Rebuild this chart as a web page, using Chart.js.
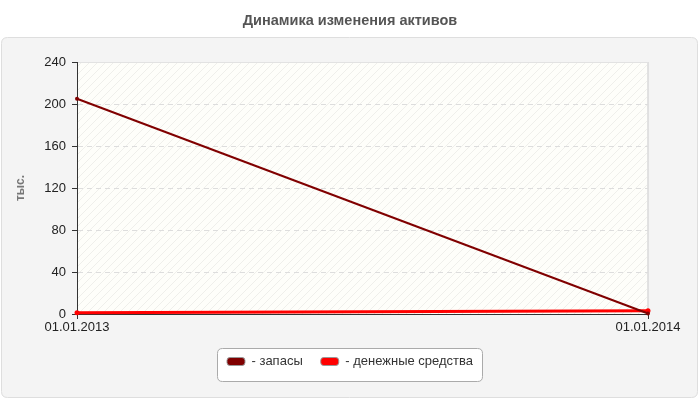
<!DOCTYPE html>
<html><head><meta charset="utf-8">
<script src="https://cdn.jsdelivr.net/npm/chart.js@4/dist/chart.umd.min.js"></script>
<style>html,body{margin:0;padding:0;background:#fff}#wrap{width:700px;height:400px}</style>
</head><body><div id="wrap"><canvas id="c" width="700" height="400"></canvas></div>
<script>
const chartTitle = 'Динамика изменения активов';
const yTitle = 'тыс.';
const categories = ['01.01.2013', '01.01.2014'];
const seriesNames = ['- запасы', '- денежные средства'];
const zapasy = [205, 0.5];
const dengi = [1.2, 3.2];
const seriesColors = ['#800000', '#ff0000'];
const yMin = 0, yMax = 240, yStep = 40;

const FONT = '"Liberation Sans", Arial, sans-serif';

function makePattern(ctx) {
  const p = document.createElement('canvas');
  p.width = 8; p.height = 8;
  const c = p.getContext('2d');
  c.fillStyle = '#fefefa';
  c.fillRect(0, 0, 8, 8);
  c.strokeStyle = '#efefeb';
  c.lineWidth = 1;
  c.beginPath();
  c.moveTo(0, 8); c.lineTo(8, 0);
  c.moveTo(-1, 1); c.lineTo(1, -1);
  c.moveTo(7, 9); c.lineTo(9, 7);
  c.stroke();
  return ctx.createPattern(p, 'repeat');
}

function rr(ctx, x, y, w, h, r) {
  ctx.beginPath();
  ctx.moveTo(x + r, y);
  ctx.lineTo(x + w - r, y);
  ctx.quadraticCurveTo(x + w, y, x + w, y + r);
  ctx.lineTo(x + w, y + h - r);
  ctx.quadraticCurveTo(x + w, y + h, x + w - r, y + h);
  ctx.lineTo(x + r, y + h);
  ctx.quadraticCurveTo(x, y + h, x, y + h - r);
  ctx.lineTo(x, y + r);
  ctx.quadraticCurveTo(x, y, x + r, y);
  ctx.closePath();
}

const bgPlugin = {
  id: 'bg',
  beforeDraw(chart) {
    const ctx = chart.ctx;
    const a = chart.chartArea;
    ctx.save();
    ctx.fillStyle = '#ffffff';
    ctx.fillRect(0, 0, chart.width, chart.height);
    rr(ctx, 1.5, 37.5, 696, 360, 6);
    ctx.fillStyle = '#f4f4f4';
    ctx.fill();
    ctx.strokeStyle = '#dedede';
    ctx.lineWidth = 1;
    ctx.stroke();
    ctx.fillStyle = makePattern(ctx);
    ctx.fillRect(a.left, a.top, a.right - a.left, a.bottom - a.top);
    ctx.strokeStyle = '#e2e2e2';
    ctx.strokeRect(a.left + 0.5, a.top + 0.5, a.right - a.left - 1, a.bottom - a.top);
    // legend frame
    const lg = chart.legend;
    if (lg && lg.legendHitBoxes && lg.legendHitBoxes.length) {
      let l = Infinity, r = -Infinity;
      lg.legendHitBoxes.forEach(h => { l = Math.min(l, h.left); r = Math.max(r, h.left + h.width); });
      const top = lg.legendHitBoxes[0].top;
      rr(ctx, Math.round(l) - 9.5, Math.round(top) - 6.5, Math.round(r - l) + 19, 33, 5);
      ctx.fillStyle = '#ffffff';
      ctx.fill();
      ctx.strokeStyle = '#aaaaaa';
      ctx.stroke();
    }
    ctx.restore();
  }
};

new Chart(document.getElementById('c'), {
  type: 'line',
  data: {
    labels: categories,
    datasets: [
      { label: seriesNames[0], data: zapasy, borderColor: seriesColors[0], backgroundColor: seriesColors[0],
        borderWidth: 2, pointRadius: 2, pointBackgroundColor: seriesColors[0], pointBorderWidth: 0, tension: 0, clip: false },
      { label: seriesNames[1], data: dengi, borderColor: seriesColors[1], backgroundColor: seriesColors[1],
        borderWidth: 3, pointRadius: 2.5, pointBackgroundColor: seriesColors[1], pointBorderWidth: 0, tension: 0, clip: false }
    ]
  },
  options: {
    responsive: false,
    animation: false,
    devicePixelRatio: 1,
    layout: { padding: { left: 0, right: 0, top: 0, bottom: 22 } },
    plugins: {
      title: {
        display: true, text: chartTitle, color: '#555555',
        font: { family: FONT, size: 14.5, weight: 'bold' },
        padding: { top: 12, bottom: 32.6 }
      },
      legend: {
        position: 'bottom',
        labels: {
          color: '#333333',
          font: { family: FONT, size: 13 },
          boxWidth: 18, boxHeight: 8, padding: 18,
          useBorderRadius: true, borderRadius: 3,
          generateLabels(chart) {
            return chart.data.datasets.map((d, i) => ({
              text: d.label, fillStyle: d.borderColor, strokeStyle: '#999999', lineWidth: 1,
              hidden: false, datasetIndex: i, borderRadius: 3, fontColor: '#333333'
            }));
          }
        }
      },
      tooltip: { enabled: false }
    },
    scales: {
      x: {
        type: 'category', offset: false,
        grid: { display: true, color: (c) => c.index === 0 ? 'rgba(0,0,0,0)' : '#e0e0e0', tickColor: '#333333', tickLength: 5, drawOnChartArea: true },
        border: { display: true, color: '#333333', width: 1 },
        ticks: { color: '#222222', font: { family: FONT, size: 13 }, padding: 1, maxRotation: 0, autoSkip: false },
        afterFit(s) { s.height = 23; }
      },
      y: {
        type: 'linear', position: 'left', min: yMin, max: yMax,
        ticks: { stepSize: yStep, color: '#222222', font: { family: FONT, size: 13 }, padding: 6 },
        grid: { color: (c) => (c.tick && (c.tick.value === yMin || c.tick.value === yMax)) ? 'rgba(0,0,0,0)' : '#dddddd', tickColor: '#333333', tickLength: 5 },
        border: { display: true, color: '#333333', width: 1, dash: [5, 4] },
        title: { display: true, text: yTitle, color: '#777777', font: { family: FONT, size: 12, weight: 'bold' }, padding: { top: 13, bottom: 0 } },
        afterFit(s) { s.width = 77; }
      },
      y2: {
        type: 'linear', position: 'right', min: 0, max: 1, display: true,
        ticks: { display: false }, grid: { display: false, drawTicks: false }, border: { display: false },
        afterFit(s) { s.width = 52; }
      }
    }
  },
  plugins: [bgPlugin]
});
</script>
</body></html>
